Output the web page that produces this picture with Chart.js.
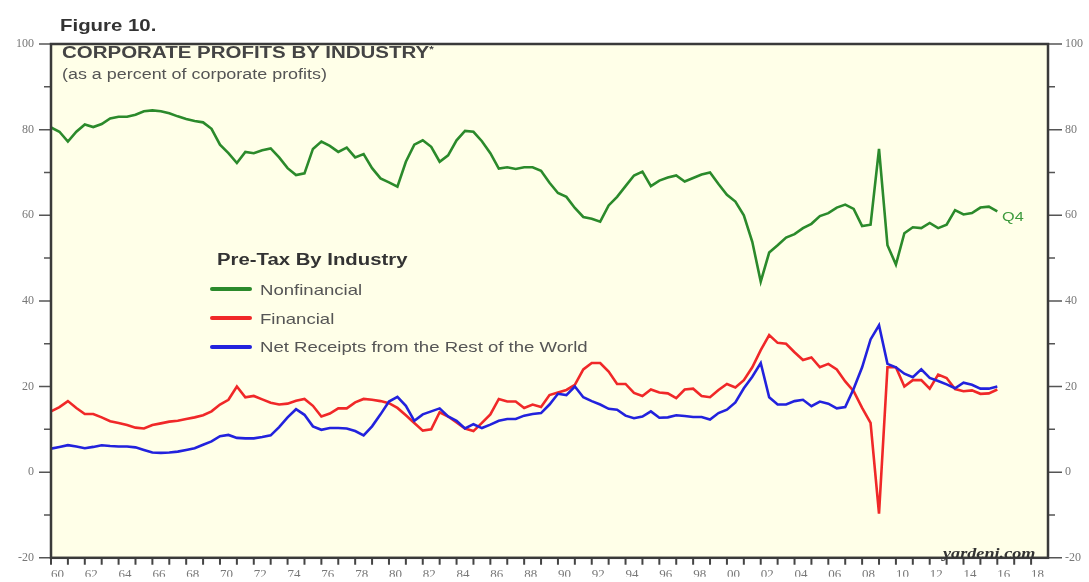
<!DOCTYPE html>
<html>
<head>
<meta charset="utf-8">
<script src="https://cdn.jsdelivr.net/npm/chart.js@4.4.1/dist/chart.umd.min.js"></script>
<style>
html,body{margin:0;padding:0;background:#fff;}
#wrap{position:relative;width:1089px;height:582px;overflow:hidden;}
#c{position:absolute;left:0;top:0;}
.t{position:absolute;white-space:nowrap;transform-origin:0 50%;font-family:"Liberation Sans",Arial,sans-serif;line-height:1;}
.sw{position:absolute;height:4px;border-radius:2px;}
</style>
</head>
<body>
<div id="wrap">
<canvas id="c" width="1089" height="582"></canvas>
<div class="t" style="left:60px;top:17px;font-size:17px;font-weight:bold;color:#333;transform:scaleX(1.2)">Figure 10.</div>
<div class="t" style="left:62px;top:45px;font-size:16px;font-weight:bold;color:#444;transform:scaleX(1.28)">CORPORATE PROFITS BY INDUSTRY<span style="font-size:9px;vertical-align:6px">*</span></div>
<div class="t" style="left:62px;top:67px;font-size:14px;color:#555;transform:scaleX(1.28)">(as a percent of corporate profits)</div>
<div class="t" style="left:217px;top:252px;font-size:16px;font-weight:bold;color:#333;transform:scaleX(1.27)">Pre-Tax By Industry</div>
<div class="sw" style="left:210px;top:287px;width:42px;background:#2b8a2b"></div>
<div class="sw" style="left:210px;top:316px;width:42px;background:#f02828"></div>
<div class="sw" style="left:210px;top:345px;width:42px;background:#2222dd"></div>
<div class="t" id="l0" style="left:260px;top:283px;font-size:14.5px;color:#555;transform:scaleX(1.28)"></div>
<div class="t" id="l1" style="left:260px;top:312px;font-size:14.5px;color:#555;transform:scaleX(1.28)"></div>
<div class="t" id="l2" style="left:260px;top:340px;font-size:14.5px;color:#555;transform:scaleX(1.28)"></div>
<div class="t" style="left:1002px;top:210px;font-size:13px;color:#3c9a3c;transform:scaleX(1.25)">Q4</div>
<div class="t" style="left:943px;top:547px;font-size:14px;font-weight:bold;font-style:italic;font-family:'Liberation Serif',serif;color:#333;transform:scaleX(1.3)">yardeni.com</div>
</div>
<script>
// half-year positions, 1960.0 .. 2016.0
const periods = Array.from({length: 113}, (_, i) => 1960 + i * 0.5);

const nonfinancial = [
  80.5,79.5, 77.2,79.5, 81.2,80.6, 81.3,82.6, 83,83, 83.5,84.3, 84.5,84.3, 83.8,83.1, 82.5,82, 81.7,80.2,
  76.5,74.5, 72.2,74.8, 74.5,75.2, 75.6,73.5, 71,69.4, 69.8,75.5, 77.2,76.2, 74.8,75.8, 73.5,74.3, 71,68.6,
  67.7,66.7, 72.5,76.5, 77.5,76, 72.5,74, 77.5,79.7, 79.5,77.3, 74.5,70.9, 71.2,70.8, 71.2,71.2, 70.4,67.6,
  65.2,64.3, 61.7,59.6, 59.2,58.5, 62.3,64.3, 66.8,69.3, 70.2,66.8, 68.1,68.8, 69.3,67.9, 68.7,69.5, 70,67.3,
  64.8,63.2, 60,53.8, 44.5,51.3, 53,54.8, 55.6,57, 58,59.8, 60.5,61.8, 62.5,61.5, 57.5,57.8, 75.5,53,
  48.5,55.8, 57.2,57, 58.2,57, 57.8,61.2, 60.2,60.5, 61.8,62, 60.9
];
const financial = [
  14.2,15.2, 16.6,15, 13.6,13.6, 12.8,11.9, 11.5,11, 10.4,10.2, 11,11.4, 11.8,12, 12.4,12.8, 13.3,14.2,
  15.8,16.9, 20,17.5, 17.8,17, 16.2,15.8, 16,16.7, 17.1,15.5, 13,13.7, 14.9,14.9, 16.3,17.1, 16.9,16.6,
  16.1,15, 13.3,11.5, 9.7,10, 14,13, 11.6,10.2, 9.6,11.5, 13.5,17.1, 16.5,16.5, 15,15.8, 15.2,18,
  18.6,19.2, 20.4,24, 25.5,25.5, 23.5,20.6, 20.6,18.5, 17.8,19.3, 18.6,18.4, 17.3,19.3, 19.5,17.8, 17.5,19.2,
  20.6,19.8, 21.5,24.5, 28.5,32, 30.2,30, 28,26.2, 26.8,24.5, 25.3,24, 21.2,18.9, 15,11.5, -9.7,24.5,
  24.5,20, 21.5,21.5, 19.5,22.8, 22,19.4, 18.9,19.1, 18.3,18.4, 19.3
];
const restOfWorld = [
  5.5,5.9, 6.3,6, 5.6,5.9, 6.3,6.1, 6,6, 5.8,5.2, 4.6,4.5, 4.6,4.8, 5.2,5.6, 6.4,7.2,
  8.4,8.7, 8,7.9, 7.9,8.2, 8.6,10.5, 12.8,14.7, 13.4,10.7, 9.9,10.3, 10.3,10.2, 9.6,8.6, 10.7,13.5,
  16.5,17.6, 15.5,12, 13.5,14.2, 14.9,13, 12,10.2, 11.2,10.3, 11.1,12, 12.4,12.4, 13.2,13.6, 13.8,15.8,
  18.3,18, 20,17.5, 16.6,15.8, 14.8,14.6, 13.2,12.6, 13,14.2, 12.7,12.8, 13.3,13.1, 12.9,12.9, 12.3,13.8,
  14.6,16.3, 19.6,22.3, 25.5,17.5, 15.8,15.8, 16.6,16.9, 15.4,16.5, 16,14.9, 15.2,19.5, 24.5,31, 34.3,25.3,
  24.5,23, 22.2,24, 22,21.3, 20.5,19.6, 20.9,20.4, 19.5,19.5, 20
];

const seriesNames = ['Nonfinancial', 'Financial', 'Net Receipts from the Rest of the World'];
const seriesColors = ['#2b8a2b', '#f02828', '#2222dd'];
const xLabelYears = Array.from({length: 30}, (_, i) => 1960 + 2 * i);
const xTickYears = Array.from({length: 59}, (_, i) => 1960 + i);
const yLabelValues = [-20, 0, 20, 40, 60, 80, 100];
const yMinorValues = [-10, 10, 30, 50, 70, 90];

seriesNames.forEach((n, i) => { document.getElementById('l' + i).textContent = n; });

const toPts = arr => arr.map((v, i) => ({x: periods[i], y: v}));

const framePlugin = {
  id: 'frame',
  beforeDraw(chart) {
    const {ctx, chartArea: a} = chart;
    ctx.save();
    ctx.fillStyle = '#ffffff';
    ctx.fillRect(0, 0, chart.width, chart.height);
    ctx.fillStyle = '#ffffe8';
    ctx.fillRect(a.left, a.top, a.right - a.left, a.bottom - a.top);
    ctx.restore();
  },
  afterDraw(chart) {
    const {ctx, chartArea: a, scales} = chart;
    ctx.save();
    ctx.strokeStyle = '#555';
    ctx.lineWidth = 1.5;
    ctx.beginPath();
    yLabelValues.forEach(v => {
      const py = scales.y.getPixelForValue(v);
      ctx.moveTo(a.left - 12, py); ctx.lineTo(a.left, py);
      ctx.moveTo(a.right, py); ctx.lineTo(a.right + 14, py);
    });
    yMinorValues.forEach(v => {
      const py = scales.y.getPixelForValue(v);
      ctx.moveTo(a.left - 7, py); ctx.lineTo(a.left, py);
      ctx.moveTo(a.right, py); ctx.lineTo(a.right + 7, py);
    });
    ctx.stroke();
    ctx.strokeStyle = '#444';
    ctx.lineWidth = 2;
    ctx.beginPath();
    xTickYears.forEach(yr => {
      const px = scales.x.getPixelForValue(yr);
      ctx.moveTo(px, a.bottom); ctx.lineTo(px, a.bottom + 7);
    });
    ctx.stroke();
    ctx.strokeStyle = '#3a3a3a';
    ctx.lineWidth = 2.5;
    ctx.strokeRect(a.left, a.top, a.right - a.left, a.bottom - a.top);
    ctx.restore();
  }
};

const tickFontY = {family: '"Liberation Serif", "DejaVu Serif", serif', size: 12};
const tickFontX = {family: '"Liberation Serif", "DejaVu Serif", serif', size: 13};

new Chart(document.getElementById('c'), {
  type: 'line',
  data: {
    datasets: seriesNames.map((n, i) => ({
      label: n,
      data: toPts([nonfinancial, financial, restOfWorld][i]),
      borderColor: seriesColors[i],
      backgroundColor: seriesColors[i],
      borderWidth: 2.6,
      pointRadius: 0,
      tension: 0,
      fill: false,
      order: 3 - i
    }))
  },
  options: {
    responsive: false,
    animation: false,
    devicePixelRatio: 1,
    layout: {padding: {top: 44, left: 0, right: 0, bottom: 0}},
    plugins: {legend: {display: false}, tooltip: {enabled: false}, title: {display: false}},
    scales: {
      x: {
        type: 'linear', min: 1960, max: 2019,
        grid: {display: false, drawTicks: false},
        border: {display: false},
        afterBuildTicks: s => { s.ticks = xLabelYears.map(v => ({value: v})); },
        afterFit: s => { s.height = 19; },
        ticks: {
          autoSkip: false, maxRotation: 0, minRotation: 0, align: 'start', padding: 9,
          color: '#777', font: tickFontX,
          callback: v => String(v % 100).padStart(2, '0')
        }
      },
      y: {
        position: 'left', min: -20, max: 100,
        grid: {display: false, drawTicks: false},
        border: {display: false},
        afterBuildTicks: s => { s.ticks = yLabelValues.map(v => ({value: v})); },
        afterFit: s => { s.width = 51; },
        ticks: {padding: 17, color: '#777', font: tickFontY}
      },
      y2: {
        position: 'right', min: -20, max: 100,
        grid: {display: false, drawTicks: false},
        border: {display: false},
        afterBuildTicks: s => { s.ticks = yLabelValues.map(v => ({value: v})); },
        afterFit: s => { s.width = 41; },
        ticks: {padding: 17, color: '#777', font: tickFontY}
      }
    }
  },
  plugins: [framePlugin]
});
</script>
</body>
</html>
